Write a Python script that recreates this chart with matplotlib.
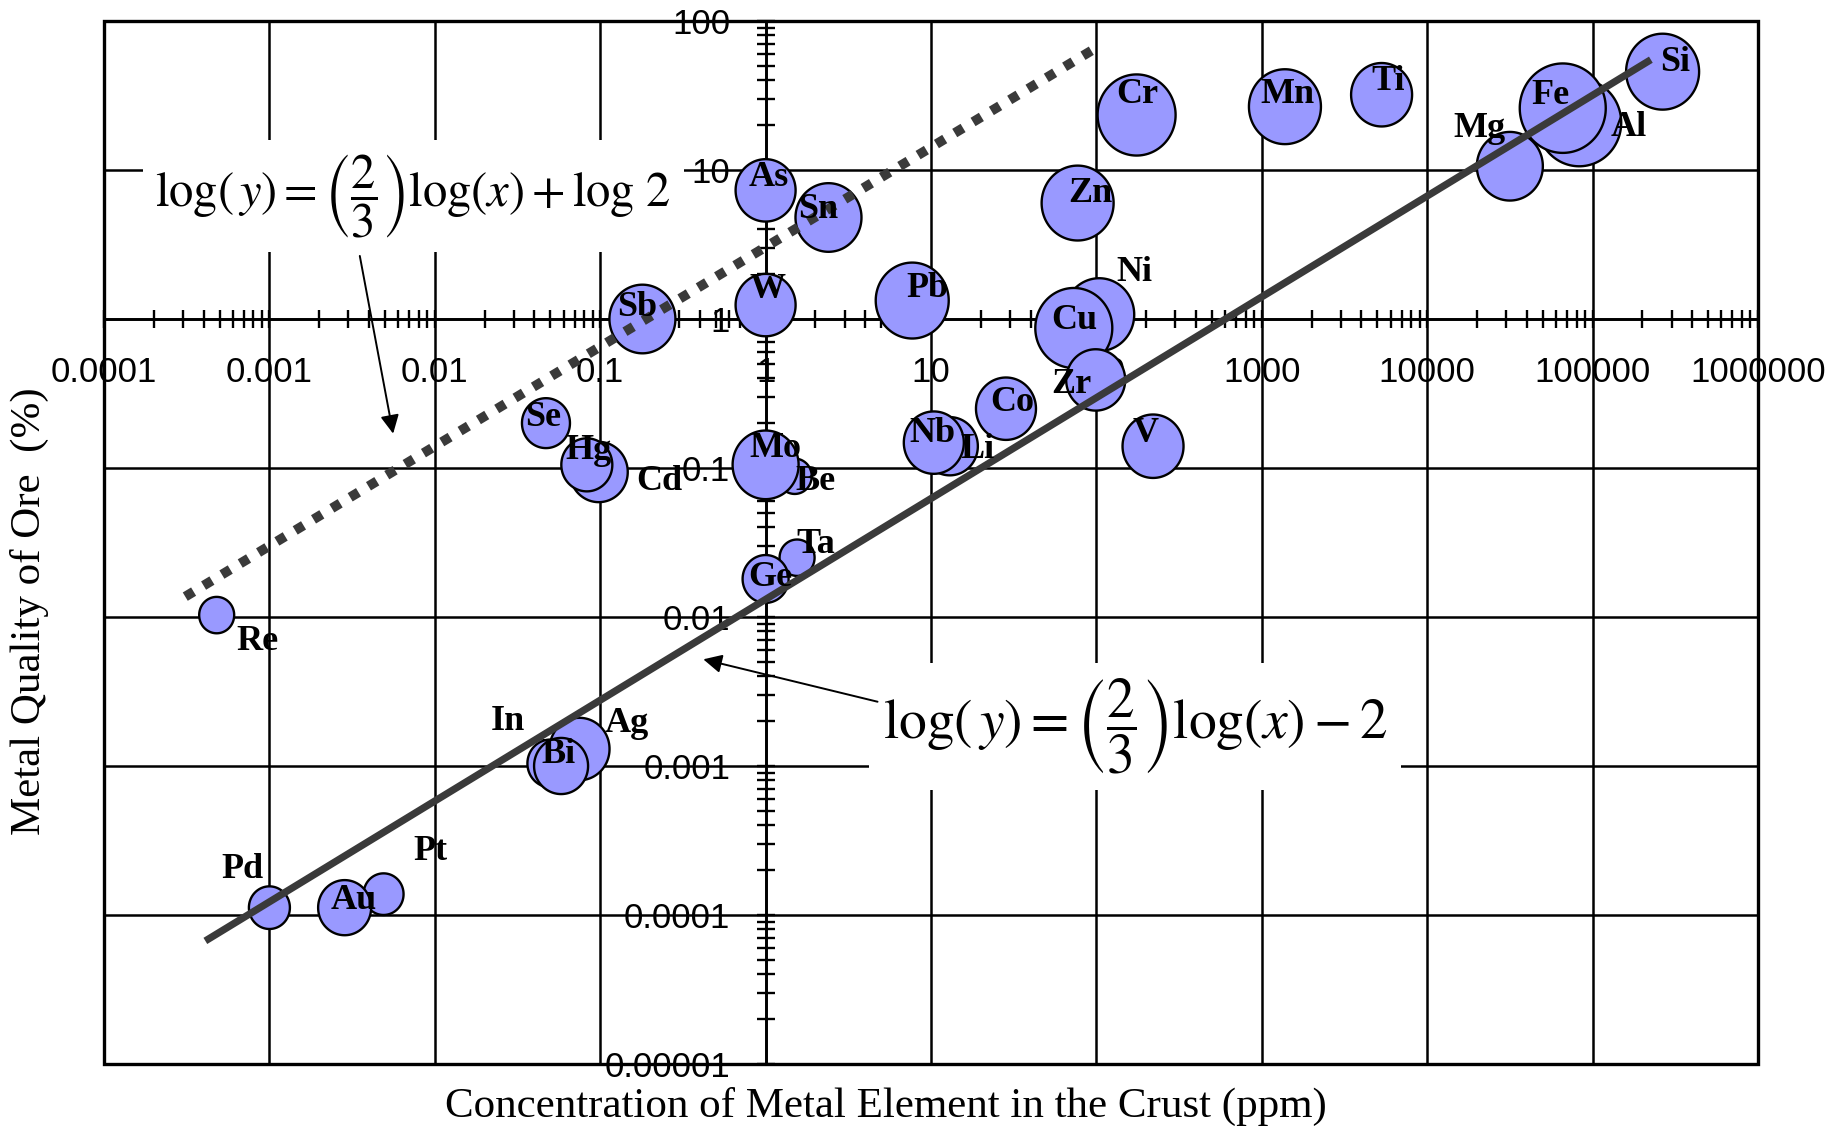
import numpy as np
import matplotlib
matplotlib.use("Agg")
import matplotlib.pyplot as plt
from matplotlib import font_manager
from matplotlib.path import Path
from matplotlib.ticker import FixedLocator, FixedFormatter, NullFormatter

# ---------------- data ----------------
elements = ["Re", "Pd", "Pt", "Au", "In", "Ag", "Bi", "Se", "Cd", "Hg", "Sb", "As",
            "Sn", "W", "Be", "Mo", "Ta", "Ge", "Pb", "Li", "Nb", "Co", "Zn", "Ni",
            "Cu", "Zr", "V", "Cr", "Mn", "Ti", "Mg", "Al", "Fe", "Si"]
crust_ppm = [4.8e-4, 1.0e-3, 4.9e-3, 2.85e-3, 0.050, 0.075, 0.058, 0.047, 0.098, 0.083,
             0.18, 1.0, 2.4, 1.0, 1.5, 1.0, 1.55, 1.0, 7.7, 13, 10.4, 28.4, 77, 104,
             73, 99, 220, 175, 1380, 5300, 31600, 83000, 66000, 265000]
ore_grade_pct = [0.0103, 1.12e-4, 1.38e-4, 1.12e-4, 0.00104, 0.0013, 0.001, 0.2, 0.094,
                 0.105, 1.0, 7.3, 4.8, 1.24, 0.088, 0.105, 0.025, 0.018, 1.33, 0.14,
                 0.148, 0.25, 6.0, 1.07, 0.87, 0.39, 0.14, 23.4, 26.6, 32, 10.6, 20.8,
                 26, 45.7]
bubble_diam = [35, 41, 40, 53, 46, 60, 54, 48, 58, 51, 66, 60, 66, 60, 34, 66, 35, 46,
               73, 56, 60, 60, 72, 70, 77, 59, 61, 78, 72, 61, 66, 84, 86, 73]

# label offsets from bubble centre (pixels, +x right, +y down)
label_dx = [41, -27, 47, 9, -43, 47, -3, -3, 61, 2, -5, 3, -10, 2, 21, 10, 19, 5, 15,
            28, -1, 6, 13, 35, 1, -24, -7, 1, 3, 7, -30, 50, -12, 13]
label_dy = [26, -38, -43, -7, -42, -26, -12, -6, 9, -14, -12, -13, -8, -16, 5, -16, -13,
            -1, -12, 3, -9, -6, -10, -42, -8, 5, -13, -20, -12, -13, -38, 5, -13, -9]

# trend lines (end points)
solid_x = [4.1e-4, 2.25e5]
solid_y = [6.7e-5, 55]
dotted_x = [3.1e-4, 104]
dotted_y = [0.0137, 68]

x_ticks = [1e-4, 1e-3, 1e-2, 1e-1, 1, 10, 100, 1000, 1e4, 1e5, 1e6]
x_tick_labels = ["0.0001", "0.001", "0.01", "0.1", "1", "10", "100", "1000", "10000",
                 "100000", "1000000"]
y_ticks = [1e-5, 1e-4, 1e-3, 1e-2, 1e-1, 1, 10, 100]
y_tick_labels = ["0.00001", "0.0001", "0.001", "0.01", "0.1", "1", "10", "100"]

eq_upper = r"$\log(\,y) = \left(\dfrac{2}{3}\right)\log(x) + \log\,2$"
eq_lower = r"$\log(\,y) = \left(\dfrac{2}{3}\right)\log(x) - 2$"
eq_upper_pos = (0.0074, 6.7)
eq_lower_pos = (172, 0.00185)
arrow_upper = ((0.00352, 2.65), (0.0056, 0.17))
arrow_lower = ((4.75, 0.0027), (0.42, 0.0052))

x_title = "Concentration of Metal Element in the Crust (ppm)"
y_title = "Metal Quality of Ore  (%)"

# ---------------- style ----------------
avail = {f.name for f in font_manager.fontManager.ttflist}
tick_font = "Liberation Sans Narrow" if "Liberation Sans Narrow" in avail else "Liberation Sans"
serif = "Liberation Serif"
plt.rcParams["mathtext.fontset"] = "stix"

fig = plt.figure(figsize=(18.29, 11.28), dpi=100)
ax = fig.add_axes([104 / 1829, 1 - 1064 / 1128, (1758 - 104) / 1829, (1064 - 21) / 1128])
ax.set_xscale("log")
ax.set_yscale("log")
ax.set_xlim(1e-4, 1e6)
ax.set_ylim(1e-5, 100)

ax.spines["left"].set_position(("data", 1))
ax.spines["bottom"].set_position(("data", 1))
ax.spines["top"].set_visible(False)
ax.spines["right"].set_visible(False)
for s in ("left", "bottom"):
    ax.spines[s].set_linewidth(2.0)
ax.patch.set_edgecolor("black")
ax.patch.set_linewidth(2.4)

ax.set_axisbelow(True)
ax.grid(True, which="major", color="black", linewidth=1.8)

ax.xaxis.set_major_locator(FixedLocator(x_ticks))
ax.xaxis.set_major_formatter(FixedFormatter(x_tick_labels))
ax.yaxis.set_major_locator(FixedLocator(y_ticks))
ax.yaxis.set_major_formatter(FixedFormatter(y_tick_labels))
ax.xaxis.set_minor_formatter(NullFormatter())
ax.yaxis.set_minor_formatter(NullFormatter())
ax.tick_params(which="both", direction="inout", length=13, width=1.7, color="black")
ax.tick_params(axis="x", which="major", pad=20, labelsize=25)
ax.tick_params(axis="y", which="major", pad=19, labelsize=25)
for lab in ax.get_xticklabels() + ax.get_yticklabels():
    lab.set_family(tick_font)

# bubbles (slightly taller than wide)
t = np.linspace(0, 2 * np.pi, 120)
ell = Path(np.column_stack([np.cos(t), 1.04 * np.sin(t)]), closed=True)
sizes = [(d * 1.04 * 0.72) ** 2 for d in bubble_diam]
ax.scatter(crust_ppm, ore_grade_pct, s=sizes, marker=ell, facecolor="#9999ff",
           edgecolor="black", linewidth=1.7, zorder=3)

# trend lines
ax.plot(solid_x, solid_y, color="#3a3a3a", linewidth=5.2, solid_capstyle="butt", zorder=4)
ax.plot(dotted_x, dotted_y, color="#3a3a3a", linewidth=7.0, linestyle=(0, (1, 1.2)),
        dash_capstyle="butt", zorder=4)

# element labels
for name, x, y, dx, dy in zip(elements, crust_ppm, ore_grade_pct, label_dx, label_dy):
    ax.annotate(name, (x, y), xytext=(dx, -dy), textcoords="offset pixels",
                ha="center", va="center", fontsize=26, fontweight="bold",
                family=serif, zorder=6)

# equations
ax.text(*eq_upper_pos, eq_upper, fontsize=35, ha="center", va="center", zorder=2,
        bbox=dict(facecolor="white", edgecolor="none", pad=9))
ax.text(*eq_lower_pos, eq_lower, fontsize=40, ha="center", va="center", zorder=2,
        bbox=dict(facecolor="white", edgecolor="none", pad=10))
for (tail, head) in (arrow_upper, arrow_lower):
    ax.annotate("", xy=head, xytext=tail,
                arrowprops=dict(arrowstyle="-|>", color="black", lw=1.4,
                                mutation_scale=28, shrinkA=0, shrinkB=0), zorder=5)

ax.set_xlabel(x_title, family=serif, fontsize=31, va="center")
ax.xaxis.set_label_coords(0.473, -0.041)
ax.set_ylabel(y_title, family=serif, fontsize=31, va="center")
ax.yaxis.set_label_coords(-0.045, 0.434)

fig.savefig("out.png", dpi=100)
